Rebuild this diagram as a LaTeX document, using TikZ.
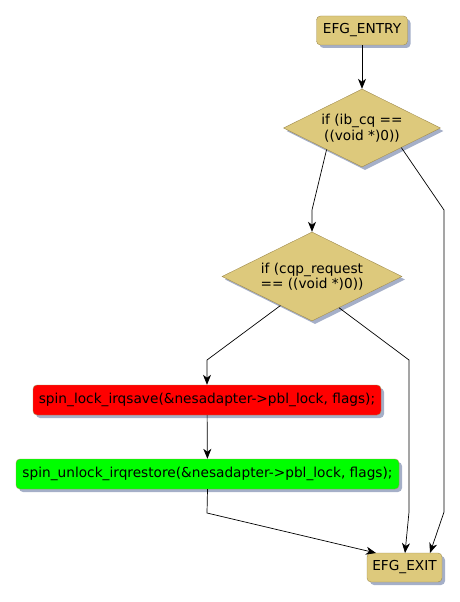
\documentclass[tikz,border=0pt]{standalone}
\usepackage{fontspec}
\setmainfont{DejaVu Sans}
\usetikzlibrary{shapes.geometric,shadows,arrows.meta,calc}
\definecolor{efgfill}{RGB}{221,201,124}
\definecolor{efgdraw}{RGB}{160,140,80}
\definecolor{efgshadow}{RGB}{165,175,200}
\begin{document}
\begin{tikzpicture}[x=1pt,y=1pt,
  font=\fontsize{13.7}{15.5}\selectfont,
  shad/.style={drop shadow={shadow xshift=3pt,shadow yshift=-3pt,fill=efgshadow,opacity=1}},
  termbox/.style={draw=efgdraw,fill=efgfill,rounded corners=4pt,inner sep=0pt,shad},
  stmtbox/.style={draw=efgdraw,rounded corners=4pt,inner sep=0pt,minimum height=30pt,shad},
  decision/.style={diamond,aspect=2,draw=efgdraw,fill=efgfill,inner sep=0pt,align=center,shad},
  conn/.style={draw=black,line width=0.7pt,-{Stealth[length=10pt,width=8pt,inset=3pt]}},
  ]
\useasboundingbox (0,0) rectangle (460,-602);
\node[termbox,minimum width=91pt,minimum height=29pt] (entry) at (362,-30.5) {EFG\_ENTRY};
\node[decision,minimum width=157pt,minimum height=78pt] (d1) at (362,-128) {if (ib\_cq ==\\((void *)0))};
\node[decision,minimum width=180pt,minimum height=89pt] (d2) at (312,-276.5) {if (cqp\_request\\== ((void *)0))};
\node[stmtbox,fill=red,minimum width=348pt] (lock) at (207,-400) {spin\_lock\_irqsave(\&nesadapter->pbl\_lock, flags);};
\node[stmtbox,fill=green,minimum width=383pt] (unlock) at (207.5,-474) {spin\_unlock\_irqrestore(\&nesadapter->pbl\_lock, flags);};
\node[termbox,minimum width=75pt,minimum height=29pt] (exit) at (404.5,-567.5) {EFG\_EXIT};

\coordinate (d1l) at ($(d1.south)!0.45!(d1.west)$);
\coordinate (d1r) at ($(d1.south)!0.5!(d1.east)$);
\coordinate (d2l) at ($(d2.south)!0.35!(d2.west)$);
\coordinate (d2r) at ($(d2.south)!0.3!(d2.east)$);
\coordinate (b1) at (312,-210);
\coordinate (b2a) at (444,-210);
\coordinate (b2b) at (444,-512);
\coordinate (b3) at (207,-360);
\coordinate (b4a) at (409,-360);
\coordinate (b4b) at (409,-512);
\coordinate (b5) at (207,-513);
\coordinate (e1) at (376,-553);
\coordinate (e2) at (405,-553);
\coordinate (e3) at (430,-553);

\draw[conn] (entry) -- (d1);
\draw[conn] (d1l) -- (b1) -- (d2.north);
\draw[conn] (d1r) -- (b2a) -- (b2b) -- (e3);
\draw[conn] (d2l) -- (b3) -- (lock.north);
\draw[conn] (d2r) -- (b4a) -- (b4b) -- (e2);
\draw[conn] (lock) -- (unlock);
\draw[conn] (unlock.south) -- (b5) -- (e1);
\end{tikzpicture}
\end{document}
